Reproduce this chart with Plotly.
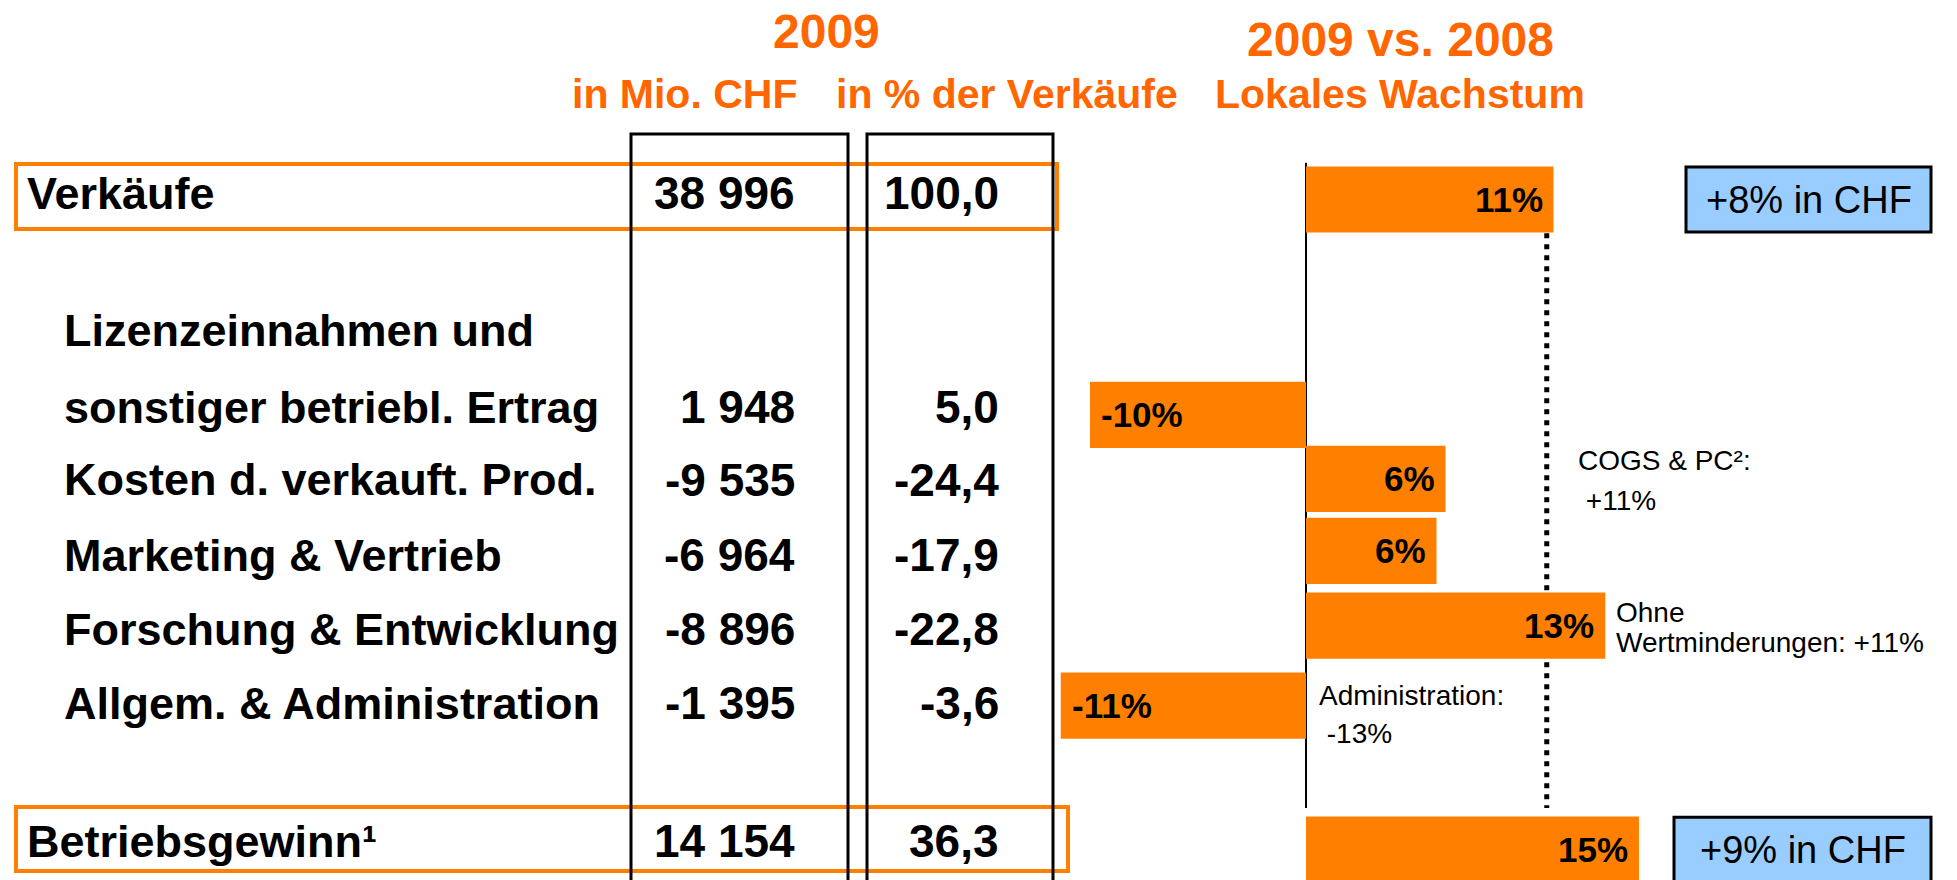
import plotly.graph_objects as go

# ---------------- data ----------------
row_labels = [
    "Verkäufe",
    "sonstiger betriebl. Ertrag",
    "Kosten d. verkauft. Prod.",
    "Marketing & Vertrieb",
    "Forschung & Entwicklung",
    "Allgem. & Administration",
    "Betriebsgewinn¹",
]
label_first_line = "Lizenzeinnahmen und"  # first line of the 2nd row label
mio_chf = [38996, 1948, -9535, -6964, -8896, -1395, 14154]
pct_of_sales = [100.0, 5.0, -24.4, -17.9, -22.8, -3.6, 36.3]
local_growth = [11.0, -9.6, 6.2, 5.8, 13.3, -10.9, 14.8]
sales_growth_ref = 10.7
chf_growth_texts = ["+8% in CHF", "+9% in CHF"]
notes = [
    ["COGS & PC²:", " +11%"],
    ["Ohne", "Wertminderungen: +11%"],
    ["Administration:", " -13%"],
]
header_year = "2009"
header_col1 = "in Mio. CHF"
header_col2 = "in % der Verkäufe"
header_growth = ["2009 vs. 2008", "Lokales Wachstum"]

# ---------------- layout constants ----------------
W, H = 1957, 880
ROW0_PX, ROW_PX = 199.5, 72.0          # pixel centre of row slot 0, slot pitch
X0_PX, PCT_PX = 1306.0, 22.5           # pixel of 0 %, pixels per %
row_pos = [0, 2.99, 3.88, 4.88, 5.92, 7.03, 9.03]   # row slot of each table line
table_y_px = [193, 407, 480, 555, 629, 703, 841]
label_x_px = [25, 62, 62, 62, 62, 62, 25]
COL1_RIGHT, COL2_RIGHT = 797, 1001

ORANGE = "#FF8000"
HEAD_ORANGE = "#FF6600"
BLUE = "#99CCFF"
FONT = "Liberation Sans, Arial, sans-serif"


def px(x):
    return x / W


def py(y):
    return 1 - y / H


def fmt_int(v):
    return format(v, ",").replace(",", " ")


def fmt_pct(v):
    return f"{v:.1f}".replace(".", ",")


y_bottom = (H - ROW0_PX) / ROW_PX
y_top = -ROW0_PX / ROW_PX
x_left = -X0_PX / PCT_PX
x_right = (W - X0_PX) / PCT_PX

fig = go.Figure()
fig.add_trace(go.Bar(
    x=local_growth,
    y=row_pos,
    orientation="h",
    width=0.92,
    marker=dict(color=ORANGE, line=dict(width=0)),
    hoverinfo="skip",
))

ann = []
shapes = []

# bar labels
for v, r in zip(local_growth, row_pos):
    ann.append(dict(
        x=v, y=r, xref="x", yref="y",
        text=f"<b>{round(v):d}%</b>",
        showarrow=False,
        xanchor="right" if v > 0 else "left",
        xshift=-9 if v > 0 else 9,
        yanchor="middle",
        font=dict(size=35, color="black", family=FONT),
    ))

# headers
ann.append(dict(x=px(826), y=py(31), xref="paper", yref="paper",
                text=f"<b>{header_year}</b>", showarrow=False,
                xanchor="center", yanchor="middle",
                font=dict(size=48, color=HEAD_ORANGE, family=FONT)))
ann.append(dict(x=px(570), y=py(94), xref="paper", yref="paper",
                text=f"<b>{header_col1}</b>", showarrow=False,
                xanchor="left", yanchor="middle",
                font=dict(size=41, color=HEAD_ORANGE, family=FONT)))
ann.append(dict(x=px(1180), y=py(94), xref="paper", yref="paper",
                text=f"<b>{header_col2}</b>", showarrow=False,
                xanchor="right", yanchor="middle",
                font=dict(size=41, color=HEAD_ORANGE, family=FONT)))
ann.append(dict(x=px(1400), y=py(40), xref="paper", yref="paper",
                text=f"<b>{header_growth[0]}</b>", showarrow=False,
                xanchor="center", yanchor="middle",
                font=dict(size=48, color=HEAD_ORANGE, family=FONT)))
ann.append(dict(x=px(1400), y=py(94), xref="paper", yref="paper",
                text=f"<b>{header_growth[1]}</b>", showarrow=False,
                xanchor="center", yanchor="middle",
                font=dict(size=41, color=HEAD_ORANGE, family=FONT)))

# table rows
for i, lab in enumerate(row_labels):
    yy = py(table_y_px[i])
    ann.append(dict(x=px(label_x_px[i]), y=yy, xref="paper", yref="paper",
                    text=f"<b>{lab}</b>", showarrow=False,
                    xanchor="left", yanchor="middle",
                    font=dict(size=45, color="black", family=FONT)))
    ann.append(dict(x=px(COL1_RIGHT), y=yy, xref="paper", yref="paper",
                    text=f"<b>{fmt_int(mio_chf[i])}</b>", showarrow=False,
                    xanchor="right", yanchor="middle",
                    font=dict(size=46, color="black", family=FONT)))
    ann.append(dict(x=px(COL2_RIGHT), y=yy, xref="paper", yref="paper",
                    text=f"<b>{fmt_pct(pct_of_sales[i])}</b>", showarrow=False,
                    xanchor="right", yanchor="middle",
                    font=dict(size=46, color="black", family=FONT)))
ann.append(dict(x=px(62), y=py(330), xref="paper", yref="paper",
                text=f"<b>{label_first_line}</b>", showarrow=False,
                xanchor="left", yanchor="middle",
                font=dict(size=45, color="black", family=FONT)))

# orange row frames
shapes.append(dict(type="rect", xref="paper", yref="paper",
                   x0=px(16), x1=px(1057), y0=py(164), y1=py(229),
                   line=dict(color=ORANGE, width=4), layer="above"))
shapes.append(dict(type="rect", xref="paper", yref="paper",
                   x0=px(16), x1=px(1068), y0=py(807), y1=py(871),
                   line=dict(color=ORANGE, width=4), layer="above"))
# column frames
for x0, x1 in [(631, 848), (867, 1053)]:
    shapes.append(dict(type="rect", xref="paper", yref="paper",
                       x0=px(x0), x1=px(x1), y0=py(895), y1=py(134),
                       line=dict(color="black", width=3), layer="above"))

# zero axis line and dotted reference line (drawn beneath the bars)
shapes.append(dict(type="line", xref="x", yref="y", x0=0, x1=0,
                   y0=-0.51, y1=8.45, line=dict(color="black", width=2),
                   layer="below"))
shapes.append(dict(type="line", xref="x", yref="y",
                   x0=sales_growth_ref, x1=sales_growth_ref,
                   y0=0.47, y1=8.45,
                   line=dict(color="black", width=5, dash="5px,6px"),
                   layer="below"))

# CHF growth boxes
for txt, r, x0 in zip(chf_growth_texts, [row_pos[0], row_pos[-1]], [1686, 1674]):
    shapes.append(dict(type="rect", xref="paper", yref="y",
                       x0=px(x0), x1=px(1931), y0=r - 0.45, y1=r + 0.45,
                       fillcolor=BLUE, line=dict(color="black", width=3),
                       layer="above"))
    ann.append(dict(x=px((x0 + 1931) / 2), y=r, xref="paper", yref="y",
                    text=txt, showarrow=False, xanchor="center", yanchor="middle",
                    font=dict(size=38, color="black", family=FONT)))

# notes
note_pos = [((1576, 460), (1576, 500)), ((1614, 612), (1614, 642)), ((1317, 695), (1317, 733))]
for lines, pos in zip(notes, note_pos):
    for t, (x, y) in zip(lines, pos):
        ann.append(dict(x=px(x), y=py(y), xref="paper", yref="paper",
                        text=t, showarrow=False, xanchor="left", yanchor="middle",
                        font=dict(size=28, color="black", family=FONT)))

fig.update_layout(
    width=W, height=H, autosize=False,
    margin=dict(l=0, r=0, t=0, b=0, pad=0),
    paper_bgcolor="white", plot_bgcolor="white",
    showlegend=False,
    font=dict(family=FONT, color="black"),
    xaxis=dict(range=[x_left, x_right], visible=False, fixedrange=True),
    yaxis=dict(range=[y_bottom, y_top], visible=False, fixedrange=True),
    annotations=ann,
    shapes=shapes,
)

fig.write_html("out.html", config={"displayModeBar": False},
               post_script="document.body.style.margin='0';")
